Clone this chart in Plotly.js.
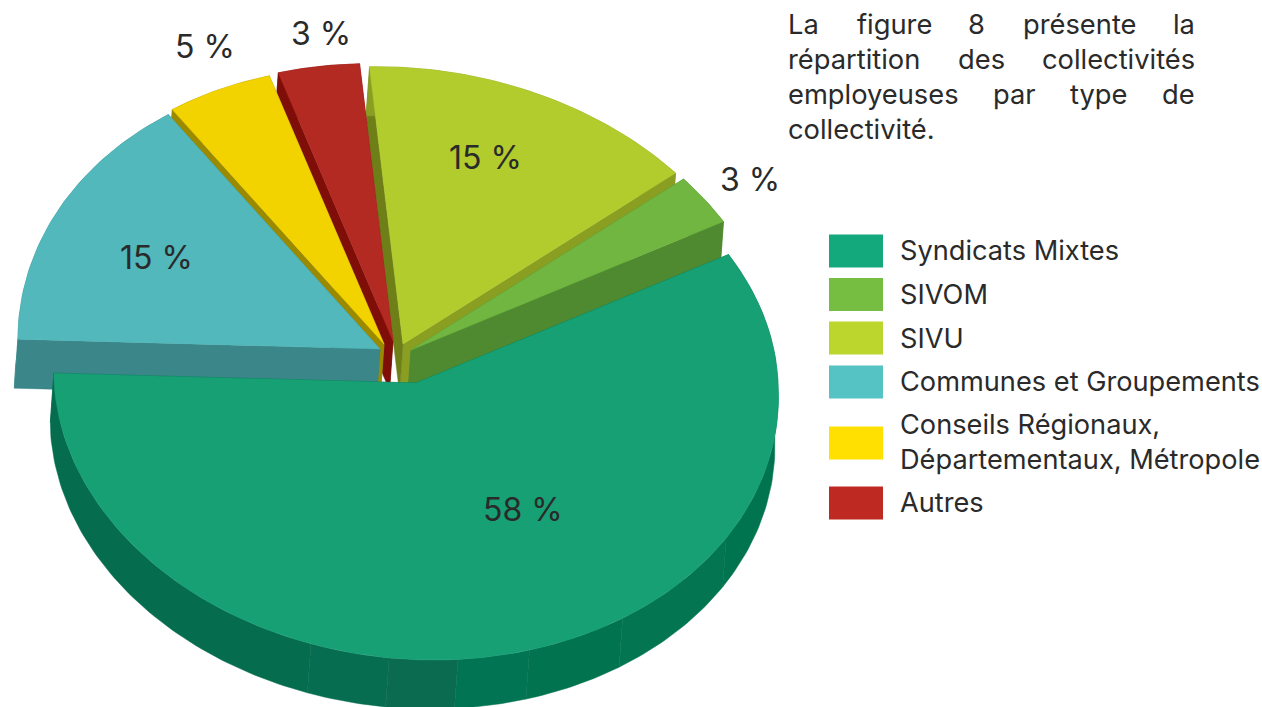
<!DOCTYPE html>
<html><head><meta charset="utf-8">
<script src="https://cdn.plot.ly/plotly-3.0.1.min.js"></script>
<style>html,body{margin:0;padding:0;background:#fff;overflow:hidden}#c{width:1262px;height:707px}</style>
</head><body><div id="c"></div>
<script>
// --- data (legend order) ---
const categories = ['Syndicats Mixtes','SIVOM','SIVU','Communes et Groupements','Conseils Régionaux,<br>Départementaux, Métropole','Autres'];
const values = [58,3,15,15,5,3];                // printed percentages
const shares = [58.4,3.0,15.0,14.95,4.8,3.65];  // apparent share of each slice on the tilted disc
// --- style ---
const topColors   = ['#17A074','#70B641','#B2CC2D','#52B8BB','#F2D300','#B22A22'];
const sideColors  = ['#056C4E','#4F8A30','#8A9E22','#3A8689','#9B8A00','#7F0E08'];
const faceColors  = ['#056C4E','#4F8A30','#6E7F18','#3A8689','#9B8A00','#7F0E08'];
const legendColors= ['#14A97C','#76BE42','#BCD62E','#55C2C4','#FFE000','#BE2A22'];
// --- layout of the pie: going anticlockwise from startAngle ---
const sliceOrder = [1,2,5,4,3,0];
const paintOrder = [2,1,5,4,3,0];
const startAngle = 28.7;
const apexX = [416,411,403,380,384,393];
const apexY = [383,350,344,349,344,341];
const rx = 362, ry = 277, frontSkew = 0.065, backSkew = 0.038, backTilt = 0.03, depthX = -3.5, depthY = 49;
const rimFacetStart = [178,250.3,262.9,273.8,285.4,301.9,326];
const rimFacetColor = ['#056C4E','#076D50','#0A6B50','#017453','#02734F','#037651','#00734F'];
const labelX = [523,750,485,156,205,321];
const labelY = [509,179,157,257,46,33];
const legendRowY = [251,294.5,338,382,443,503];
const legendTextY = [250,294,338,381,442,502];
const paragraph = [['La',785.5,24],['figure',854.5,24],['8',965.5,24],['présente',1020.5,24],['la',1170.5,24],
  ['répartition',785.5,59],['des',955.5,59],['collectivités',1040,59],
  ['employeuses',785.5,94],['par',990.5,94],['type',1067.5,94],['de',1159.5,94],
  ['collectivité.',785.5,129]];
const FONT = 'Inter, "Open Sans", sans-serif', INK = '#2A2A2A';

const total = shares.reduce((a,b)=>a+b,0);
const ranges = {}; let cur = startAngle;
sliceOrder.forEach(i=>{const sweep=shares[i]/total*360; ranges[i]=[cur,cur+sweep]; cur+=sweep;});

const rad = d=>d*Math.PI/180;
function rim(i,a){
  const c=Math.cos(rad(a)), s=Math.sin(rad(a));
  const dx=rx*c, dy=-ry*s;
  if(dy>0) return [apexX[i]+dx+frontSkew*dy, apexY[i]+dy];
  return [apexX[i]+dx+backSkew*dy, apexY[i]+dy+backTilt*dx*s];
}
function arc(i,a0,a1){const n=Math.max(2,Math.ceil((a1-a0))),p=[];for(let k=0;k<=n;k++)p.push(rim(i,a0+(a1-a0)*k/n));return p;}
function poly(pts,color,w){return {type:'scatter',mode:'lines',x:pts.map(p=>p[0]),y:pts.map(p=>p[1]),fill:'toself',fillcolor:color,line:{color:color,width:w===undefined?0.5:w},hoverinfo:'skip',showlegend:false};}
function extrude(pts){const a=pts,b=pts.slice().reverse().map(p=>[p[0]+depthX,p[1]+depthY]);return a.concat(b,[a[0]]);}

const traces=[];
paintOrder.forEach(i=>{
  const [a0,a1]=ranges[i], apex=[apexX[i],apexY[i]];
  // radial cut faces
  traces.push(poly(extrude([apex,rim(i,a0)]),sideColors[i]));
  traces.push(poly(extrude([apex,rim(i,a1)]),faceColors[i]));
  // outer wall
  if(i===0){
    rimFacetStart.forEach((s,k)=>{
      const e=k+1<rimFacetStart.length?rimFacetStart[k+1]:a1;
      traces.push(poly(extrude(arc(i,s,e)),rimFacetColor[k]));
    });
  } else traces.push(poly(extrude(arc(i,a0,a1)),sideColors[i]));
  // top face
  traces.push(poly([apex].concat(arc(i,a0,a1),[apex]),topColors[i]));
});

const anns=[], shapes=[];
values.forEach((v,i)=>anns.push({x:labelX[i],y:labelY[i],text:v+' %',showarrow:false,xanchor:'center',yanchor:'middle',font:{family:FONT,size:32,color:INK}}));
categories.forEach((c,i)=>{
  shapes.push({type:'rect',x0:829,x1:883,y0:legendRowY[i]-16.5,y1:legendRowY[i]+16.5,fillcolor:legendColors[i],line:{width:0},layer:'above'});
  anns.push({x:897.5,y:legendTextY[i],text:c,showarrow:false,xanchor:'left',yanchor:'middle',align:'left',font:{family:FONT,size:27.2,color:INK}});
});
paragraph.forEach(w=>anns.push({x:w[1],y:w[2],text:w[0],showarrow:false,xanchor:'left',yanchor:'middle',font:{family:FONT,size:27.3,color:INK}}));

Plotly.newPlot('c',traces,{
  width:1262,height:707,margin:{l:0,r:0,t:0,b:0,pad:0},showlegend:false,
  paper_bgcolor:'#fff',plot_bgcolor:'#fff',
  xaxis:{range:[0,1262],visible:false,fixedrange:true},
  yaxis:{range:[707,0],visible:false,fixedrange:true},
  annotations:anns,shapes:shapes
},{displayModeBar:false,staticPlot:true});
</script></body></html>
